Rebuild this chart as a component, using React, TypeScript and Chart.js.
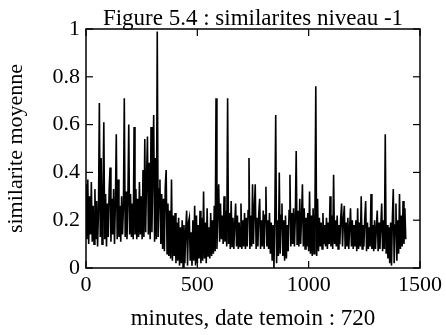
import React, { useEffect, useRef } from "react";
import { Chart, registerables } from "chart.js";

Chart.register(...registerables);

const TITLE = "Figure 5.4 : similarites niveau -1";
const X_TITLE = "minutes, date temoin : 720";
const Y_TITLE = "similarite moyenne";
const X_TICKS = [0, 500, 1000, 1500];
const Y_TICKS = [0, 0.2, 0.4, 0.6, 0.8, 1];
const STEP_MINUTES = 4;

// similarite moyenne, one reading every 4 minutes (0 .. 1436)
const similarity = [
  0.35, 0.12, 0.37, 0.10, 0.30, 0.14, 0.36, 0.11, 0.26, 0.10,
  0.33, 0.12, 0.28, 0.09, 0.24, 0.69, 0.13, 0.46, 0.10, 0.30,
  0.61, 0.12, 0.31, 0.09, 0.27, 0.13, 0.33, 0.42, 0.11, 0.29,
  0.14, 0.33, 0.10, 0.27, 0.56, 0.12, 0.37, 0.13, 0.26, 0.11,
  0.30, 0.14, 0.25, 0.71, 0.13, 0.32, 0.12, 0.28, 0.60, 0.14,
  0.31, 0.13, 0.27, 0.12, 0.59, 0.14, 0.33, 0.12, 0.29, 0.13,
  0.36, 0.14, 0.30, 0.12, 0.41, 0.13, 0.54, 0.15, 0.38, 0.55,
  0.14, 0.44, 0.12, 0.59, 0.15, 0.40, 0.64, 0.11, 0.46, 0.12,
  0.99, 0.13, 0.33, 0.37, 0.10, 0.31, 0.08, 0.29, 0.07, 0.34,
  0.41, 0.06, 0.27, 0.05, 0.24, 0.04, 0.37, 0.03, 0.22, 0.05,
  0.23, 0.02, 0.19, 0.03, 0.21, 0.01, 0.17, 0.02, 0.20, 0.00,
  0.18, 0.02, 0.16, 0.24, 0.01, 0.19, 0.21, 0.03, 0.15, 0.01,
  0.20, 0.03, 0.26, 0.01, 0.22, 0.02, 0.18, 0.04, 0.24, 0.02,
  0.21, 0.03, 0.32, 0.04, 0.19, 0.02, 0.25, 0.05, 0.17, 0.04,
  0.23, 0.05, 0.20, 0.06, 0.26, 0.07, 0.71, 0.08, 0.24, 0.35,
  0.11, 0.27, 0.12, 0.22, 0.10, 0.30, 0.11, 0.24, 0.09, 0.71,
  0.10, 0.23, 0.08, 0.28, 0.09, 0.21, 0.08, 0.19, 0.27, 0.09,
  0.22, 0.08, 0.19, 0.09, 0.27, 0.08, 0.20, 0.09, 0.23, 0.08,
  0.21, 0.09, 0.24, 0.46, 0.08, 0.22, 0.09, 0.35, 0.10, 0.25,
  0.35, 0.08, 0.21, 0.09, 0.23, 0.29, 0.08, 0.20, 0.09, 0.24,
  0.08, 0.22, 0.34, 0.09, 0.20, 0.08, 0.23, 0.06, 0.19, 0.03,
  0.18, 0.00, 0.21, 0.64, 0.02, 0.20, 0.05, 0.40, 0.06, 0.22,
  0.27, 0.05, 0.20, 0.03, 0.22, 0.04, 0.18, 0.07, 0.24, 0.39,
  0.09, 0.23, 0.10, 0.25, 0.09, 0.21, 0.49, 0.10, 0.24, 0.09,
  0.29, 0.10, 0.22, 0.35, 0.09, 0.25, 0.08, 0.21, 0.09, 0.23,
  0.07, 0.32, 0.06, 0.22, 0.05, 0.25, 0.06, 0.20, 0.76, 0.05,
  0.29, 0.07, 0.21, 0.09, 0.19, 0.08, 0.23, 0.10, 0.18, 0.09,
  0.21, 0.08, 0.19, 0.10, 0.30, 0.09, 0.22, 0.08, 0.39, 0.10,
  0.20, 0.09, 0.22, 0.08, 0.18, 0.10, 0.21, 0.27, 0.09, 0.20,
  0.26, 0.08, 0.19, 0.09, 0.21, 0.08, 0.17, 0.25, 0.09, 0.20,
  0.08, 0.18, 0.09, 0.20, 0.07, 0.25, 0.08, 0.19, 0.09, 0.30,
  0.08, 0.18, 0.09, 0.21, 0.28, 0.07, 0.19, 0.08, 0.17, 0.09,
  0.31, 0.08, 0.18, 0.07, 0.20, 0.08, 0.17, 0.24, 0.07, 0.19,
  0.08, 0.18, 0.27, 0.07, 0.20, 0.08, 0.56, 0.06, 0.18, 0.04,
  0.17, 0.02, 0.19, 0.01, 0.21, 0.33, 0.02, 0.18, 0.27, 0.03,
  0.20, 0.06, 0.31, 0.08, 0.22, 0.09, 0.28, 0.10, 0.25, 0.12,
];

const minutes = similarity.map((_, i) => i * STEP_MINUTES);

const FONT = '"Liberation Serif", "Times New Roman", serif';

const framePlugin = {
  id: "frameAndTitle",
  afterDraw(chart: any) {
    const { ctx, chartArea: a, scales } = chart;
    ctx.save();
    ctx.strokeStyle = "#000";
    ctx.lineWidth = 1.5;
    ctx.strokeRect(a.left, a.top, a.right - a.left, a.bottom - a.top);
    ctx.lineWidth = 1.2;
    const L = 7;
    const seg = (x1: number, y1: number, x2: number, y2: number) => {
      ctx.beginPath();
      ctx.moveTo(x1, y1);
      ctx.lineTo(x2, y2);
      ctx.stroke();
    };
    for (const v of Y_TICKS) {
      const y = scales.y.getPixelForValue(v);
      seg(a.left, y, a.left + L, y);
      seg(a.right, y, a.right - L, y);
    }
    for (const v of X_TICKS) {
      const x = scales.x.getPixelForValue(v);
      seg(x, a.bottom, x, a.bottom - L);
      seg(x, a.top, x, a.top + L);
    }
    ctx.fillStyle = "#000";
    ctx.font = `23px ${FONT}`;
    ctx.textAlign = "center";
    ctx.textBaseline = "alphabetic";
    ctx.fillText(TITLE, (a.left + a.right) / 2, 25);
    ctx.restore();
  },
};

export default function App() {
  const ref = useRef<HTMLCanvasElement | null>(null);

  useEffect(() => {
    if (!ref.current) return;
    const chart = new Chart(ref.current, {
      type: "line",
      data: {
        labels: minutes,
        datasets: [
          {
            data: similarity.map((v, i) => ({ x: minutes[i], y: v })),
            borderColor: "#000",
            borderWidth: 1.6,
            pointRadius: 0,
            tension: 0,
            fill: false,
          },
        ],
      },
      options: {
        responsive: false,
        animation: false,
        events: [],
        layout: { padding: { left: 0, right: 23, top: 29, bottom: 0 } },
        plugins: {
          legend: { display: false },
          title: { display: false },
          tooltip: { enabled: false },
        },
        scales: {
          x: {
            type: "linear",
            min: 0,
            max: 1500,
            afterFit: (s: any) => {
              s.height = 67;
            },
            afterBuildTicks: (s: any) => {
              s.ticks = X_TICKS.map((v) => ({ value: v }));
            },
            grid: { display: false, drawTicks: false },
            border: { display: false },
            ticks: {
              color: "#000",
              font: { family: FONT, size: 22 },
              padding: 4,
              maxRotation: 0,
              autoSkip: false,
              callback: (v: any) => String(v),
            },
            title: {
              display: true,
              text: X_TITLE,
              color: "#000",
              font: { family: FONT, size: 23 },
              padding: { top: 0, bottom: 2 },
            },
          },
          y: {
            type: "linear",
            min: 0,
            max: 1,
            afterFit: (s: any) => {
              s.width = 86;
            },
            afterBuildTicks: (s: any) => {
              s.ticks = Y_TICKS.map((v) => ({ value: v }));
            },
            grid: { display: false, drawTicks: false },
            border: { display: false },
            ticks: {
              color: "#000",
              font: { family: FONT, size: 22 },
              padding: 6,
              callback: (v: any) => String(v),
            },
            title: {
              display: true,
              text: Y_TITLE,
              color: "#000",
              font: { family: FONT, size: 22 },
              padding: { top: 3, bottom: 0 },
            },
          },
        },
      },
      plugins: [framePlugin],
    });
    return () => chart.destroy();
  }, []);

  return (
    <div style={{ position: "fixed", left: 0, top: 0, width: 446, height: 335, background: "#fff" }}>
      <canvas ref={ref} width={446} height={335} style={{ width: 446, height: 335 }} />
    </div>
  );
}
